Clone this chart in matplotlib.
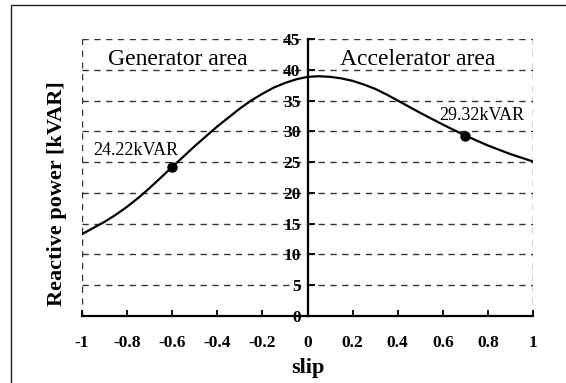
import matplotlib
matplotlib.use("Agg")
import matplotlib.pyplot as plt
from matplotlib.patches import Rectangle

# values
slip = [-1.0, -0.95, -0.9, -0.85, -0.8, -0.75, -0.7, -0.65, -0.6, -0.55, -0.5, -0.45,
        -0.4, -0.3, -0.25, -0.2, -0.15, -0.1, -0.05, 0.0, 0.05, 0.1, 0.15, 0.2, 0.25,
        0.3, 0.35, 0.4, 0.45, 0.5, 0.55, 0.6, 0.65, 0.7, 0.75, 0.8, 0.85, 0.9, 0.95, 1.0]
q_kvar = [13.3, 14.3, 15.3, 16.45, 17.75, 19.2, 20.8, 22.5, 24.22, 25.9, 27.6, 29.2,
          30.8, 33.7, 35.0, 36.1, 37.1, 37.85, 38.45, 38.85, 38.95, 38.85, 38.6, 38.2, 37.6,
          36.9, 36.0, 35.0, 34.0, 33.0, 32.05, 31.1, 30.2, 29.32, 28.5, 27.7, 27.0, 26.3, 25.7, 25.1]

mark_slip = [-0.6, 0.7]
mark_q = [24.22, 29.32]
mark_text = ["24.22kVAR", "29.32kVAR"]

xticks = [-1, -0.8, -0.6, -0.4, -0.2, 0, 0.2, 0.4, 0.6, 0.8, 1]
xticklabels = ["-1", "-0.8", "-0.6", "-0.4", "-0.2", "0", "0.2", "0.4", "0.6", "0.8", "1"]
yticks = [0, 5, 10, 15, 20, 25, 30, 35, 40, 45]

plt.rcParams["font.family"] = ["Liberation Serif", "DejaVu Serif"]

fig = plt.figure(figsize=(5.66, 3.83), dpi=100)
ax = fig.add_axes([0.1449, 0.1749, 0.7968, 0.7233])

# outer frame of the figure
fig.patches.append(Rectangle((11 / 566, -0.1), 1.2, 1.1 - 5 / 383, transform=fig.transFigure,
                             fill=False, edgecolor="#222222", lw=1.0))

dash = (0, (4.5, 4))
gcol = "#333333"
for y in yticks[1:]:
    ax.axhline(y, color=gcol, lw=1.0, ls=dash, zorder=1)
ax.axvline(-1, color=gcol, lw=1.0, ls=dash, zorder=1)
ax.axvline(1, color=gcol, lw=1.0, ls=dash, zorder=1)

ax.plot(slip, q_kvar, color="black", lw=1.6, zorder=3)
ax.plot(mark_slip, mark_q, "o", color="black", ms=6.5, zorder=4)

ax.text(-0.951, 26.1, mark_text[0], fontsize=13, ha="left", va="baseline")
ax.text(0.96, 31.8, mark_text[1], fontsize=13, ha="right", va="baseline")
ax.text(-0.574, 40.75, "Generator area", fontsize=17, ha="center", va="baseline")
ax.text(0.488, 40.75, "Accelerator area", fontsize=17, ha="center", va="baseline")

ax.set_xlim(-1, 1)
ax.set_ylim(0, 45)
ax.spines["left"].set_position(("data", 0))
ax.spines["bottom"].set_position(("data", 0))
ax.spines["top"].set_visible(False)
ax.spines["right"].set_visible(False)
ax.spines["left"].set_linewidth(1.6)
ax.spines["bottom"].set_linewidth(1.6)

ax.set_xticks(xticks)
ax.set_xticklabels(xticklabels)
ax.set_yticks(yticks)
ax.tick_params(axis="x", direction="in", length=4, width=1.3, pad=14, labelsize=12.5)
ax.tick_params(axis="y", direction="in", length=5, width=1.3, pad=5, labelsize=12.5)
for lab in ax.get_xticklabels() + ax.get_yticklabels():
    lab.set_fontweight("bold")

ax.set_xlabel("slip", fontsize=16, fontweight="bold", labelpad=5)
ax.set_ylabel("Reactive power [kVAR]", fontsize=16, fontweight="bold")
ax.yaxis.set_label_coords(-0.033, 0.44)

fig.savefig("out.png", dpi=100)
